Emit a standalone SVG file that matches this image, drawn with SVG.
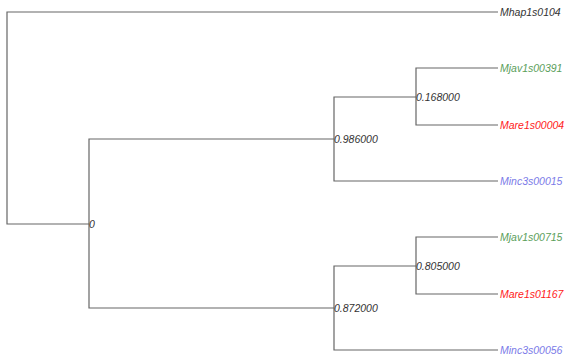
<svg xmlns="http://www.w3.org/2000/svg" width="573" height="361" viewBox="0 0 573 361">
<style>
.e{fill:none;stroke:#666;stroke-width:1.2}
text{font-family:"Liberation Sans",Arial,sans-serif;font-style:italic;font-size:10.5px}
.n{fill:#333}
.g{fill:#5a9e5a}
.r{fill:#ff2020}
.b{fill:#7a7ae8}
.k{fill:#333}
</style>
<rect width="573" height="361" fill="#fff"/>
<g id="edges">
<path class="e" d="M498,12 H7 V224 H89"/>
<path class="e" d="M334,139 H89 V308 H334"/>
<path class="e" d="M416,97 H334 V181 H498"/>
<path class="e" d="M498,68 H416 V125 H498"/>
<path class="e" d="M416,266 H334 V350 H498"/>
<path class="e" d="M498,237 H416 V294 H498"/>
</g>
<g id="n_root"><text class="n" x="89" y="228">0</text></g>
<g id="n_0986"><text class="n" x="334" y="143">0.986000</text></g>
<g id="n_0168"><text class="n" x="416" y="101">0.168000</text></g>
<g id="n_0872"><text class="n" x="334" y="312">0.872000</text></g>
<g id="n_0805"><text class="n" x="416" y="270">0.805000</text></g>
<g id="l_mhap"><text class="k" x="500" y="16">Mhap1s0104</text></g>
<g id="l_mjav391"><text class="g" x="500" y="72">Mjav1s00391</text></g>
<g id="l_mare004"><text class="r" x="500" y="129">Mare1s00004</text></g>
<g id="l_minc015"><text class="b" x="500" y="185">Minc3s00015</text></g>
<g id="l_mjav715"><text class="g" x="500" y="241">Mjav1s00715</text></g>
<g id="l_mare167"><text class="r" x="500" y="298">Mare1s01167</text></g>
<g id="l_minc056"><text class="b" x="500" y="354">Minc3s00056</text></g>
</svg>
